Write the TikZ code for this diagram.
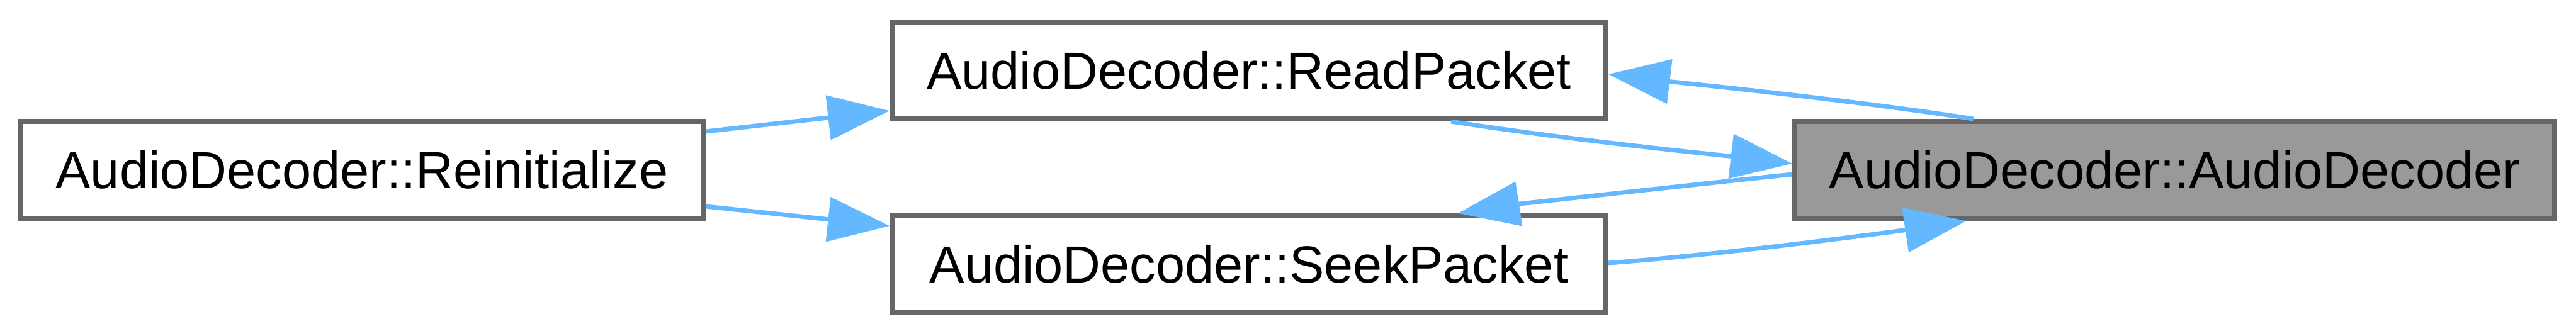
\documentclass[tikz,border=0pt]{standalone}
\usepackage{fontspec}
\setmainfont{Liberation Sans}
\usetikzlibrary{arrows.meta, positioning, calc}
\definecolor{edgeblue}{HTML}{63B8FF}
\definecolor{boxgray}{HTML}{666666}
\definecolor{focusgray}{HTML}{999999}

\begin{document}
\begin{tikzpicture}[
    func/.style={draw=boxgray, line width=0.08cm, fill=white, inner sep=0pt,
                 minimum height=1.54cm, font=\fontsize{23.6}{28}\selectfont},
    focus/.style={func, fill=focusgray},
    call/.style={-{Triangle[length=0.98cm, width=0.7cm]}, draw=edgeblue,
                 line width=0.07cm}
]
\useasboundingbox (0,0) rectangle (40.92,5.33);

% Callers, left to right
\node[func, minimum width=10.84cm] (reinit) at (5.75, 2.63)
    {AudioDecoder::Reinitialize};
\node[func, minimum width=11.34cm] (read) at (19.84, 4.21)
    {AudioDecoder::ReadPacket};
\node[func, minimum width=11.34cm] (seek) at (19.84, 1.13)
    {AudioDecoder::SeekPacket};

% The function itself
\node[focus, minimum width=12.07cm] (ctor) at (34.545, 2.63)
    {AudioDecoder::AudioDecoder};

% Edges
\draw[call] ([yshift=0.61cm]reinit.east) -- ([yshift=-0.64cm]read.west);
\draw[call] ([yshift=-0.58cm]reinit.east) -- ([yshift=0.61cm]seek.west);

\draw[call] ([xshift=-3.2cm]ctor.north)
    .. controls +(-1.9,0.3) and +(1.0,-0.12) .. ([yshift=-0.06cm]read.east);
\draw[call] ([xshift=3.21cm]read.south)
    .. controls +(1.9,-0.3) and +(-1.0,0.12) .. ([yshift=0.10cm]ctor.west);

\draw[call] ([yshift=-0.07cm]ctor.west)
    .. controls +(-1.9,-0.2) and +(0.9,0.14) .. ([xshift=3.32cm]seek.north);
\draw[call] ([yshift=0.02cm]seek.east)
    .. controls +(2.0,0.15) and +(-1.0,-0.15) .. ([xshift=-3.31cm]ctor.south);

\end{tikzpicture}
\end{document}
